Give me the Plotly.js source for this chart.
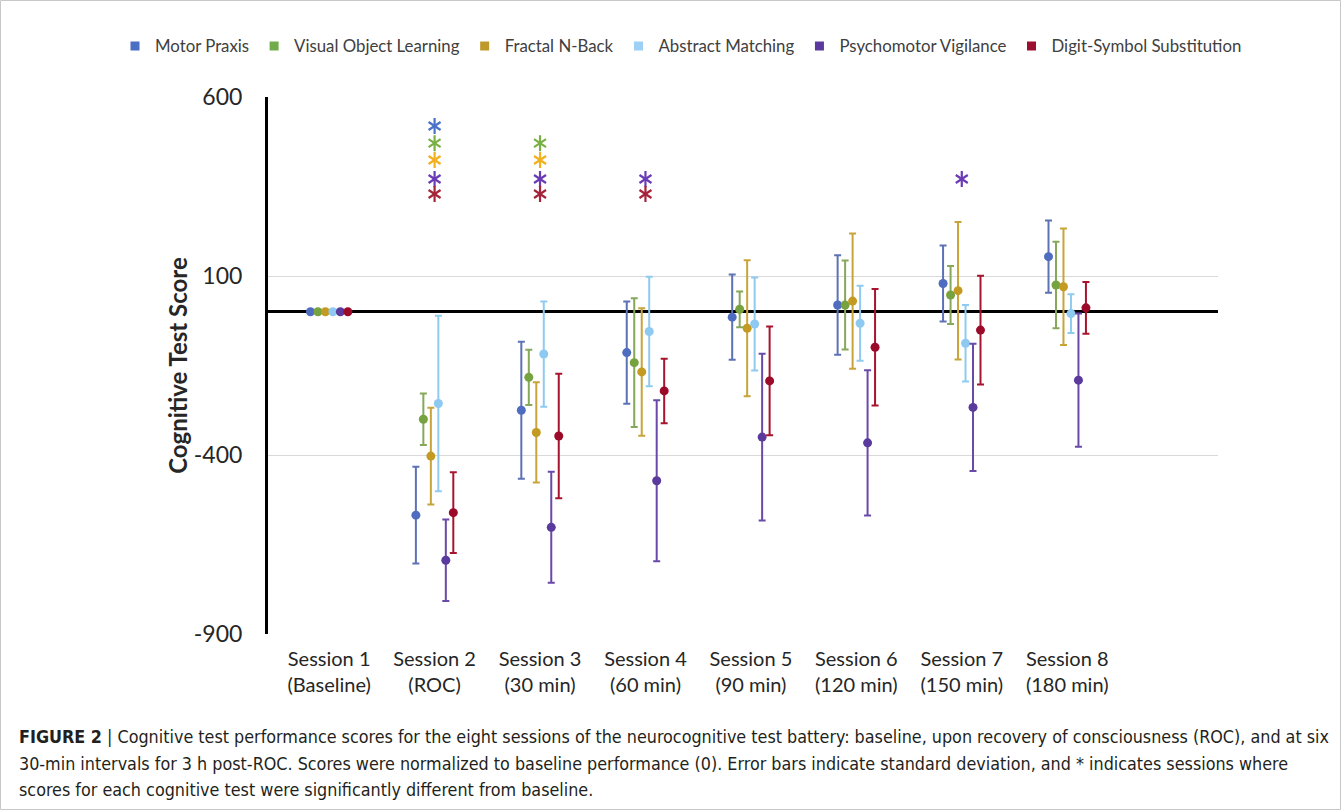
<!DOCTYPE html>
<html>
<head>
<meta charset="utf-8">
<script src="https://cdn.plot.ly/plotly-3.0.1.min.js"></script>
<style>html,body{margin:0;padding:0;background:#fff;}#chart{width:1341px;height:810px;}</style>
</head>
<body>
<div id="chart"></div>
<script>
// ---------- data ----------
const sessions = [1, 2, 3, 4, 5, 6, 7, 8];
const sessionLabels = ["Session 1<br>(Baseline)", "Session 2<br>(ROC)", "Session 3<br>(30 min)", "Session 4<br>(60 min)",
  "Session 5<br>(90 min)", "Session 6<br>(120 min)", "Session 7<br>(150 min)", "Session 8<br>(180 min)"];
const testNames = ["Motor Praxis", "Visual Object Learning", "Fractal N-Back", "Abstract Matching", "Psychomotor Vigilance", "Digit-Symbol Substitution"];
const yTickValues = [-900, -400, 100, 600];

const motorMean = [0, -568, -275, -114, -15, 19, 79, 154];
const motorSD   = [0, 135, 191, 143, 119, 139, 106, 101];
const volMean   = [0, -300, -183, -142, 7, 19, 47, 75];
const volSD     = [0, 72, 77, 180, 50, 124, 81, 121];
const fnbMean   = [0, -403, -337, -168, -46, 30, 59, 70];
const fnbSD     = [0, 135, 140, 178, 190, 189, 192, 163];
const amMean    = [0, -256, -118, -55, -34, -32, -88, -5];
const amSD      = [0, 245, 147, 153, 130, 105, 107, 54];
const pvtMean   = [0, -694, -602, -472, -350, -366, -267, -191];
const pvtSD     = [0, 114, 155, 225, 233, 203, 178, 186];
const dssMean   = [0, -561, -347, -221, -193, -99, -51, 11];
const dssSD     = [0, 113, 174, 90, 152, 163, 152, 72];

// sessions significantly different from baseline (*)
const motorSig = [2];
const volSig   = [2, 3];
const fnbSig   = [2, 3];
const amSig    = [];
const pvtSig   = [2, 3, 4, 7];
const dssSig   = [2, 3, 4];

// ---------- styles ----------
const means = [motorMean, volMean, fnbMean, amMean, pvtMean, dssMean];
const sds = [motorSD, volSD, fnbSD, amSD, pvtSD, dssSD];
const sigs = [motorSig, volSig, fnbSig, amSig, pvtSig, dssSig];
const markerColors = ["#4e6cc0", "#76a23f", "#c39a22", "#8ec9f1", "#5a3a9c", "#9c0a2a"];
const errColors    = ["#5d72b5", "#86a85a", "#c8a43a", "#8fcbf0", "#6a4aa8", "#a8142e"];
const legendColors = ["#4a6fc4", "#72ac4a", "#bf9a2a", "#9dd0f5", "#5b3a9f", "#9b1030"];
const starColors   = ["#4a72c8", "#78b042", "#f2b01e", "#8fcbf0", "#6a3bb5", "#a5243a"];
const starLevels   = [519, 471, 424, null, 371, 329];
const offsetStep = 0.071;

const traces = [];
means.forEach((m, i) => {
  const off = (i - 2.5) * offsetStep;
  traces.push({
    type: "scatter", mode: "markers", showlegend: false, hoverinfo: "skip",
    x: sessions.map(s => s + off), y: m,
    marker: {color: markerColors[i], size: 9},
    error_y: {type: "data", array: sds[i], visible: true, color: errColors[i], thickness: 2, width: 3.5}
  });
});
sigs.forEach((sg, i) => {
  if (!sg.length) return;
  ["y-up-open", "y-down-open"].forEach(sym => {
    traces.push({
      type: "scatter", mode: "markers", showlegend: false, hoverinfo: "skip",
      x: sg, y: sg.map(() => starLevels[i]),
      marker: {symbol: sym, size: 10, color: starColors[i], line: {color: starColors[i], width: 2.2}}
    });
  });
});
testNames.forEach((n, i) => {
  traces.push({
    type: "scatter", mode: "markers", name: n, x: [null], y: [null],
    marker: {symbol: "square", size: 9, color: legendColors[i]}
  });
});

const captionFont = {family: "Liberation Sans Narrow, DejaVu Sans Condensed, Arial Narrow, sans-serif", size: 17.8, color: "#231f20"};
const px = v => (v - 268) / 950;
const py = v => (634 - v) / 537;

const layout = {
  width: 1341, height: 810,
  margin: {l: 268, r: 123, t: 97, b: 176},
  paper_bgcolor: "#fff", plot_bgcolor: "#fff",
  font: {family: "Lato, Calibri, sans-serif", color: "#262626"},
  showlegend: true,
  legend: {orientation: "h", x: px(115), xanchor: "left", y: py(46), yanchor: "middle",
    font: {size: 16.8, color: "#404040"}, itemwidth: 30, traceorder: "normal"},
  xaxis: {range: [0.42, 9.43], tickmode: "array", tickvals: sessions, ticktext: sessionLabels,
    showgrid: false, zeroline: false, showline: false, ticks: "",
    ticklabelstandoff: 11,
    tickfont: {size: 20, color: "#262626"}, fixedrange: true},
  yaxis: {range: [-900, 600], tickmode: "array", tickvals: yTickValues, ticktext: yTickValues.map(v => String(v)),
    showgrid: true, gridcolor: "#d9d9d9", gridwidth: 1,
    zeroline: true, zerolinecolor: "#000", zerolinewidth: 3,
    showline: true, linecolor: "#000", linewidth: 3, ticks: "",
    ticklabelstandoff: 18,
    tickfont: {size: 23, color: "#262626"},
    title: {text: "<b>Cognitive Test Score</b>", font: {size: 24, color: "#262626"}, standoff: 0},
    fixedrange: true},
  shapes: [
    {type: "rect", xref: "paper", yref: "paper", x0: px(0.5), x1: px(1340.5), y0: py(809.5), y1: py(0.5),
     line: {color: "#c8c8c8", width: 1}, fillcolor: "rgba(0,0,0,0)", layer: "below"}
  ],
  annotations: [
    {xref: "paper", yref: "paper", x: px(17), y: py(736), xanchor: "left", yanchor: "middle", showarrow: false,
     font: captionFont,
     text: "<b>FIGURE 2</b> | Cognitive test performance scores for the eight sessions of the neurocognitive test battery: baseline, upon recovery of consciousness (ROC), and at six"},
    {xref: "paper", yref: "paper", x: px(17), y: py(763), xanchor: "left", yanchor: "middle", showarrow: false,
     font: captionFont,
     text: "30-min intervals for 3 h post-ROC. Scores were normalized to baseline performance (0). Error bars indicate standard deviation, and * indicates sessions where"},
    {xref: "paper", yref: "paper", x: px(17), y: py(789), xanchor: "left", yanchor: "middle", showarrow: false,
     font: captionFont,
     text: "scores for each cognitive test were significantly different from baseline."}
  ]
};

Plotly.newPlot("chart", traces, layout, {displayModeBar: false, staticPlot: true});
</script>
</body>
</html>
